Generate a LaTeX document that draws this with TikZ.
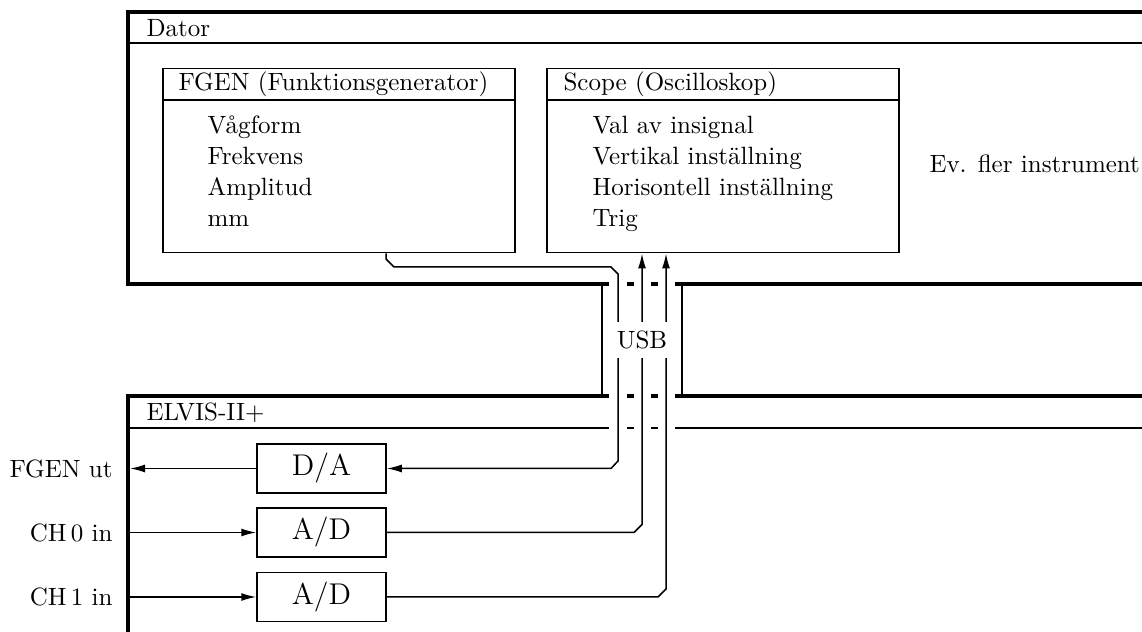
\documentclass[tikz,border=0pt]{standalone}
\usetikzlibrary{arrows.meta,calc}
\begin{document}
\begin{tikzpicture}[x=0.4pt,y=-0.4pt,
  thickline/.style={line width=1.3pt},
  thinline/.style={line width=0.6pt},
  wire/.style={line width=0.6pt},
  arr/.style={-{Latex[length=6pt,width=3.2pt]}},
  conv/.style={draw, line width=0.6pt, minimum width=51.6pt, minimum height=19.6pt, inner sep=0pt, font=\large},
  instbox/.style={draw, line width=0.6pt, minimum width=140.8pt, minimum height=73.6pt, inner sep=0pt, anchor=north west},
  txt/.style={inner sep=0pt, anchor=base west},
  sidelbl/.style={inner sep=0pt, anchor=east},
]
\useasboundingbox (0,0) rectangle (1142,632);

% ---- Dator container
\draw[thickline] (1142,12) -- (128,12) -- (128,284) -- (609,284);
\draw[thickline] (675,284) -- (1142,284);
\draw[thickline] (627,284) -- (634,284) (651,284) -- (658,284);
\draw[thinline] (128,43) -- (1142,43);
\node[txt] (dator) at (146,36.5) {Dator};

% ---- ELVIS container
\draw[thickline] (128,632) -- (128,396) -- (609,396);
\draw[thickline] (675,396) -- (1142,396);
\draw[thickline] (627,396) -- (634,396) (651,396) -- (658,396);
\draw[thinline] (128,428) -- (609,428) (675,428) -- (1142,428);
\draw[thinline] (627,428) -- (634,428) (651,428) -- (658,428);
\node[txt] (elvis) at (146,420.5) {ELVIS-II+};

% ---- cable
\draw[thinline] (602,284) -- (602,396);
\draw[thinline] (682,284) -- (682,396);

% ---- instruments
\node[instbox] (fgen) at (162,68) {};
\draw[thinline] ($(fgen.north west)+(0,32)$) -- ($(fgen.north east)+(0,32)$);
\node[txt] (fgenh) at (178,91) {FGEN (Funktionsgenerator)};
\node[txt] (f1) at (207,134) {Vågform};
\node[txt] (f2) at (207,165) {Frekvens};
\node[txt] (f3) at (207,196) {Amplitud};
\node[txt] (f4) at (207,227) {mm};

\node[instbox] (scope) at (546,68) {};
\draw[thinline] ($(scope.north west)+(0,32)$) -- ($(scope.north east)+(0,32)$);
\node[txt] (scopeh) at (563,91) {Scope (Oscilloskop)};
\node[txt] (s1) at (592,134) {Val av insignal};
\node[txt] (s2) at (592,165) {Vertikal inställning};
\node[txt] (s3) at (592,196) {Horisontell inställning};
\node[txt] (s4) at (592,227) {Trig};

\node[inner sep=0pt, anchor=west] (ev) at (929,164) {Ev. fler instrument};

% ---- converters
\node[conv] (da) at (321.5,468.5) {D/A};
\node[conv] (ad1) at (321.5,532.5) {A/D};
\node[conv] (ad2) at (321.5,597) {A/D};

\coordinate (leftb) at (130,0);
\node[sidelbl] (fgenut) at (113,468.5) {FGEN ut};
\node[sidelbl] (ch0) at (113,532.5) {CH\,0 in};
\node[sidelbl] (ch1) at (113,597) {CH\,1 in};

\draw[wire,arr] (da.west) -- (da.west -| leftb);
\draw[wire,arr] (ad1.west -| leftb) -- (ad1.west);
\draw[wire,arr] (ad2.west -| leftb) -- (ad2.west);

% ---- wires through USB
\draw[wire,arr] ($(fgen.south west)+(224,0)$) -- (386,259) -- (394,267) -- (611,267) -- (618,274)
   -- (618,461) -- (611,468.5) -- (da.east);
\draw[wire,arr] (ad1.east) -- (634,532.5) -- (642,524.5) -- ($(scope.south west)+(96,0)$);
\draw[wire,arr] (ad2.east) -- (658,597) -- (666,589) -- ($(scope.south west)+(120,0)$);

\node[fill=white, inner xsep=1pt, inner ysep=3.6pt] (usb) at (642,340) {USB};
\end{tikzpicture}
\end{document}
